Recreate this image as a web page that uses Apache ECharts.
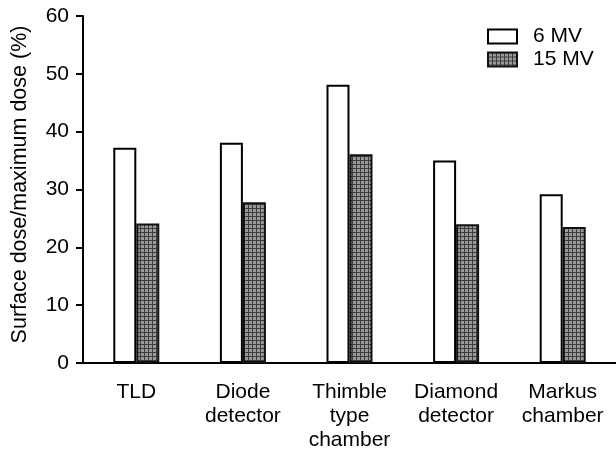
<!DOCTYPE html>
<html>
<head>
<meta charset="utf-8">
<script src="https://cdn.jsdelivr.net/npm/echarts@6/dist/echarts.min.js"></script>
<style>html,body{margin:0;padding:0;background:#fff;}#c{width:616px;height:452px;}</style>
</head>
<body>
<div id="c"></div>
<script>
var categories = ['TLD', 'Diode\ndetector', 'Thimble\ntype\nchamber', 'Diamond\ndetector', 'Markus\nchamber'];
var mv6 = [37.2, 38.1, 48.1, 35.0, 29.2];
var mv15 = [24.1, 27.8, 36.1, 24.0, 23.5];
var yTicks = [0, 10, 20, 30, 40, 50, 60];

function makePattern() {
  var cv = document.createElement('canvas');
  cv.width = 4; cv.height = 4;
  var ctx = cv.getContext('2d');
  ctx.fillStyle = '#9a9a9a';
  ctx.fillRect(0, 0, 4, 4);
  ctx.fillStyle = '#3c3c3c';
  ctx.fillRect(0, 0, 4, 1);
  ctx.fillRect(0, 0, 1, 4);
  return cv;
}
var pat = { image: makePattern(), repeat: 'repeat' };

var chart = echarts.init(document.getElementById('c'), null, { renderer: 'canvas' });
var font = 'Liberation Sans, Arial, sans-serif';
chart.setOption({
  animation: false,
  textStyle: { fontFamily: font },
  grid: { left: 83, right: 0, top: 16, bottom: 83 },
  legend: {
    orient: 'vertical',
    left: 487, top: 26, padding: 0,
    itemWidth: 29, itemHeight: 14, itemGap: 2,
    icon: 'rect',
    textStyle: { fontSize: 21, color: '#000', fontFamily: font, padding: [0, 0, 0, 11] },
    data: ['6 MV', '15 MV']
  },
  xAxis: {
    type: 'category',
    data: categories,
    axisLine: { lineStyle: { color: '#000', width: 2 } },
    axisTick: { length: 8, lineStyle: { color: '#000', width: 2 } },
    axisLabel: { color: '#000', fontSize: 21, lineHeight: 24, margin: 17, interval: 0, fontFamily: font }
  },
  yAxis: {
    type: 'value',
    min: yTicks[0], max: yTicks[yTicks.length - 1], interval: 10,
    name: 'Surface dose/maximum dose (%)',
    nameLocation: 'middle', nameGap: 52,
    nameTextStyle: { fontSize: 21.5, color: '#000', fontFamily: font, padding: [0, 0, 0, 10] },
    axisLine: { show: true, lineStyle: { color: '#000', width: 2 } },
    axisTick: { show: true, length: 7, lineStyle: { color: '#000', width: 2 } },
    axisLabel: { color: '#000', fontSize: 21, margin: 14, fontFamily: font },
    splitLine: { show: false }
  },
  series: [
    { name: '6 MV', type: 'bar', data: mv6, barWidth: 23, barGap: '0%',
      itemStyle: { color: '#fff', borderColor: '#000', borderWidth: 2 } },
    { name: '15 MV', type: 'bar', data: mv15, barWidth: 23, barGap: '0%',
      itemStyle: { color: pat, borderColor: '#111', borderWidth: 2 } }
  ]
});
</script>
</body>
</html>
